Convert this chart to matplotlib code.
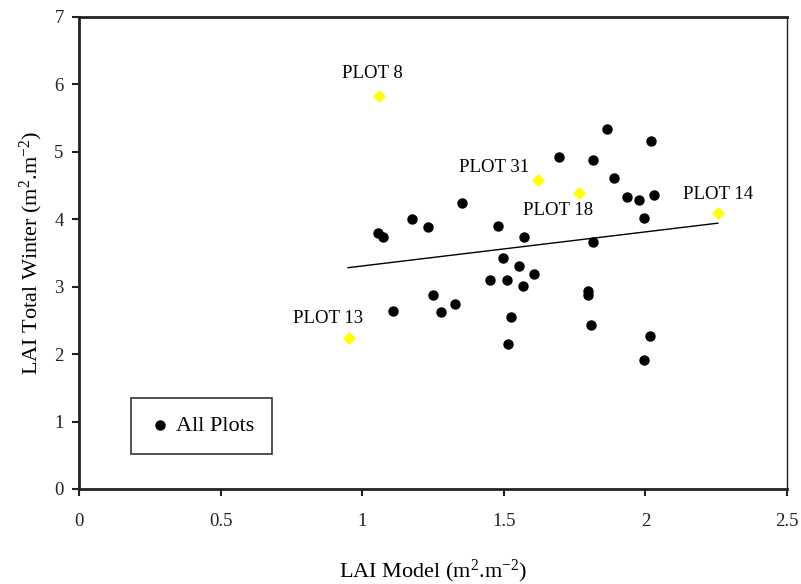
import numpy as np
import matplotlib
matplotlib.use("Agg")
import matplotlib.pyplot as plt
from matplotlib.ticker import FuncFormatter, MultipleLocator

plt.rcParams["font.family"] = ["Liberation Serif", "DejaVu Serif"]
plt.rcParams["mathtext.fontset"] = "custom"
plt.rcParams["mathtext.rm"] = "Liberation Serif"
plt.rcParams["mathtext.it"] = "Liberation Serif:italic"

# all plots (black dots)
all_x = [1.056, 1.073, 1.109, 1.176, 1.232, 1.250, 1.278, 1.328, 1.352,
         1.452, 1.480, 1.497, 1.511, 1.514, 1.525, 1.554, 1.568, 1.571,
         1.607, 1.695, 1.797, 1.797, 1.808, 1.815, 1.815, 1.864, 1.889,
         1.935, 1.977, 1.995, 1.995, 2.016, 2.020, 2.030]
all_y = [3.79, 3.73, 2.64, 4.00, 3.88, 2.88, 2.62, 2.74, 4.24,
         3.10, 3.90, 3.42, 3.10, 2.15, 2.55, 3.31, 3.01, 3.74,
         3.19, 4.92, 2.93, 2.88, 2.43, 4.88, 3.66, 5.33, 4.61,
         4.33, 4.28, 4.02, 1.91, 2.27, 5.16, 4.36]

# highlighted plots (yellow diamonds)
plot_names = ["PLOT 8", "PLOT 31", "PLOT 18", "PLOT 14", "PLOT 13"]
plot_x = [1.059, 1.621, 1.766, 2.256, 0.953]
plot_y = [5.83, 4.58, 4.39, 4.09, 2.24]

# trend line
trend_x = [0.950, 2.256]
trend_y = [3.28, 3.94]

# label offsets in points (text centre relative to the diamond)
offsets = [(-5, 16), (-32, 9), (-15, -13), (0, 13), (-15, 14)]

fig = plt.figure(figsize=(8.01, 5.84), dpi=100)
ax = fig.add_axes([0.0986, 0.1627, 0.8839, 0.8087])

ax.scatter(all_x, all_y, s=42, color="black", zorder=3, label="All Plots")
ax.scatter(plot_x, plot_y, s=44, marker="D", color="#ffff00", zorder=3,
           linewidths=0)
ax.plot(trend_x, trend_y, color="black", lw=1.0, zorder=2)

for name, x, y, off in zip(plot_names, plot_x, plot_y, offsets):
    ax.annotate(name, (x, y), xytext=off, textcoords="offset points",
                ha="center", va="center", fontsize=13.5)

ax.set_xlim(0, 2.5)
ax.set_ylim(0, 7)
ax.xaxis.set_major_locator(MultipleLocator(0.5))
ax.yaxis.set_major_locator(MultipleLocator(1))
ax.xaxis.set_major_formatter(FuncFormatter(lambda v, p: f"{v:g}"))
ax.yaxis.set_major_formatter(FuncFormatter(lambda v, p: f"{v:g}"))
ax.tick_params(direction="out", length=5, width=1.5, labelsize=13.5,
               colors="#222222")
ax.tick_params(axis="x", pad=12)
ax.tick_params(axis="y", pad=6)

for side in ["left", "bottom", "top"]:
    ax.spines[side].set_linewidth(2)
    ax.spines[side].set_color("#222222")
ax.spines["right"].set_linewidth(1)
ax.spines["right"].set_color("#222222")

ax.set_xlabel("LAI Model (m$^{2}$.m$^{-2}$)", fontsize=16, labelpad=20)
ax.set_ylabel("LAI Total Winter (m$^{2}$.m$^{-2}$)", fontsize=16, labelpad=7)

leg = ax.legend(loc="lower left", bbox_to_anchor=(0.073, 0.074),
                fontsize=16, frameon=True, fancybox=False, borderpad=0.8,
                handletextpad=0.25, handlelength=1.0, borderaxespad=0,
                markerscale=1.0)
leg.get_frame().set_edgecolor("black")
leg.get_frame().set_linewidth(1.2)

fig.savefig("out.png", dpi=100)
